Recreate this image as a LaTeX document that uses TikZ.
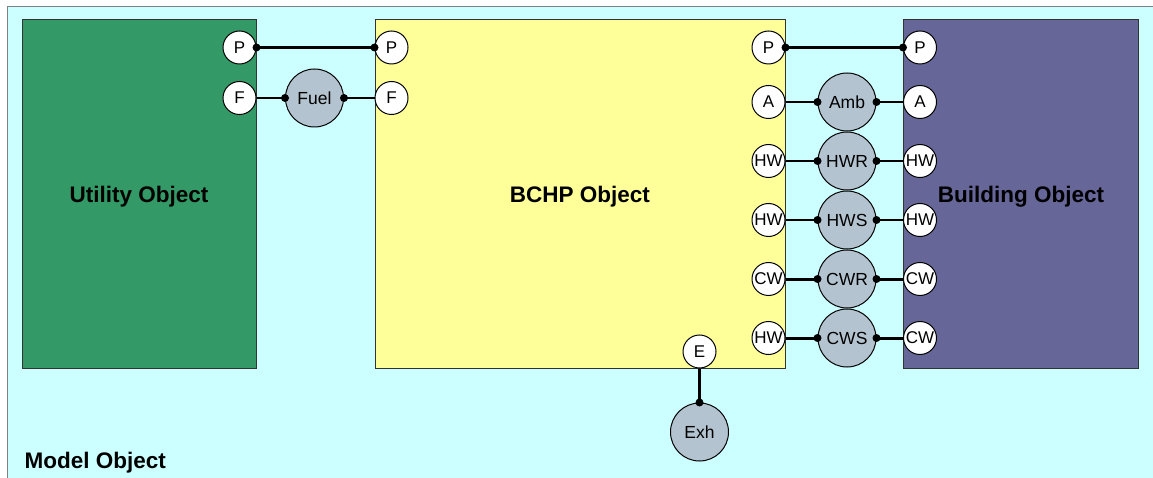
\documentclass[tikz,border=0pt]{standalone}
\usepackage{fontspec}
\setmainfont{Liberation Sans}
\usetikzlibrary{positioning}
\definecolor{modelcyan}{HTML}{CCFFFF}
\definecolor{utilgreen}{HTML}{339966}
\definecolor{bchpyellow}{HTML}{FFFF99}
\definecolor{bldgpurple}{HTML}{666699}
\definecolor{pipegray}{HTML}{B3C4D0}
\definecolor{boxedge}{HTML}{333333}
\tikzset{
    objbox/.style={rectangle, draw=boxedge, line width=1pt, inner sep=0pt, text height=18pt, text depth=0pt, font=\fontsize{22.5}{27}\selectfont\bfseries},
    port/.style={circle, draw=black, fill=white, line width=1pt, minimum size=33pt, inner sep=0pt, font=\fontsize{17}{20}\selectfont},
    pipe/.style={circle, draw=black, fill=pipegray, line width=1pt, minimum size=58pt, inner sep=0pt, font=\fontsize{17.5}{20}\selectfont},
    thickwire/.style={line width=3pt},
    thinwire/.style={line width=2pt}
}

\begin{document}
\begin{tikzpicture}[x=1pt, y=-1pt]
    \useasboundingbox (0,0) rectangle (1153,478);
    % model object background
    \fill[modelcyan] (7,7) rectangle (1153,478);
    \draw[gray, line width=1pt] (7,478) -- (7,7) -- (1153,7);
    \node[anchor=base west, font=\fontsize{22.5}{27}\selectfont\bfseries] (modellbl) at (21,468) {Model Object};

    % objects
    \node[objbox, fill=utilgreen, minimum width=234pt, minimum height=348pt] (util) at (139,194) {Utility Object};
    \node[objbox, fill=bchpyellow, minimum width=410pt, minimum height=348pt] (bchp) at (580,194) {BCHP Object};
    \node[objbox, fill=bldgpurple, minimum width=235pt, minimum height=348pt] (bldg) at (1021,194) {Building Object};

    % utility ports
    \node[port] (uP) at (239.5,47.5) {P};
    \node[port] (uF) at (239.5,98) {F};
    % bchp ports
    \node[port] (bP) at (391.5,47.5) {P};
    \node[port] (bF) at (391.5,98) {F};
    \node[port] (bPo) at (768.5,47.5) {P};
    \node[port] (bA) at (768.5,102) {A};
    \node[port] (bHW1) at (768.5,161) {HW};
    \node[port] (bHW2) at (768.5,220) {HW};
    \node[port] (bCW) at (768.5,279) {CW};
    \node[port] (bHW3) at (768.5,338) {HW};
    \node[port] (bE) at (699.5,351.5) {E};
    % building ports
    \node[port] (gP) at (920,47.5) {P};
    \node[port] (gA) at (920,102) {A};
    \node[port] (gHW1) at (920,161) {HW};
    \node[port] (gHW2) at (920,220) {HW};
    \node[port] (gCW1) at (920,279) {CW};
    \node[port] (gCW2) at (920,338) {CW};

    % pipes
    \node[pipe] (fuel) at (314.5,98) {Fuel};
    \node[pipe] (amb) at (847,102) {Amb};
    \node[pipe] (hwr) at (847,161) {HWR};
    \node[pipe] (hws) at (847,220) {HWS};
    \node[pipe] (cwr) at (847,279) {CWR};
    \node[pipe] (cws) at (847,338) {CWS};
    \node[pipe] (exh) at (699.5,432) {Exh};

    % connectors
    \draw[thickwire] (uP.east) -- (bP.west);
    \fill (uP.east) circle (4pt) (bP.west) circle (4pt);
    \draw[thinwire] (uF.east) -- (fuel.west) (fuel.east) -- (bF.west);
    \fill (fuel.west) circle (4pt) (fuel.east) circle (4pt);

    \draw[thickwire] (bPo.east) -- (gP.west);
    \fill (bPo.east) circle (4pt) (gP.west) circle (4pt);
    \draw[thinwire] (bA.east) -- (amb.west) (amb.east) -- (gA.west);
    \draw[thinwire] (bHW1.east) -- (hwr.west) (hwr.east) -- (gHW1.west);
    \draw[thinwire] (bHW2.east) -- (hws.west) (hws.east) -- (gHW2.west);
    \draw[thickwire] (bCW.east) -- (cwr.west) (cwr.east) -- (gCW1.west);
    \draw[thickwire] (bHW3.east) -- (cws.west) (cws.east) -- (gCW2.west);
    \foreach \p in {amb,hwr,hws,cwr,cws}
        \fill (\p.west) circle (4pt) (\p.east) circle (4pt);

    \draw[thickwire] (bE.south) -- (exh.north);
    \fill (exh.north) circle (4pt);
\end{tikzpicture}
\end{document}
